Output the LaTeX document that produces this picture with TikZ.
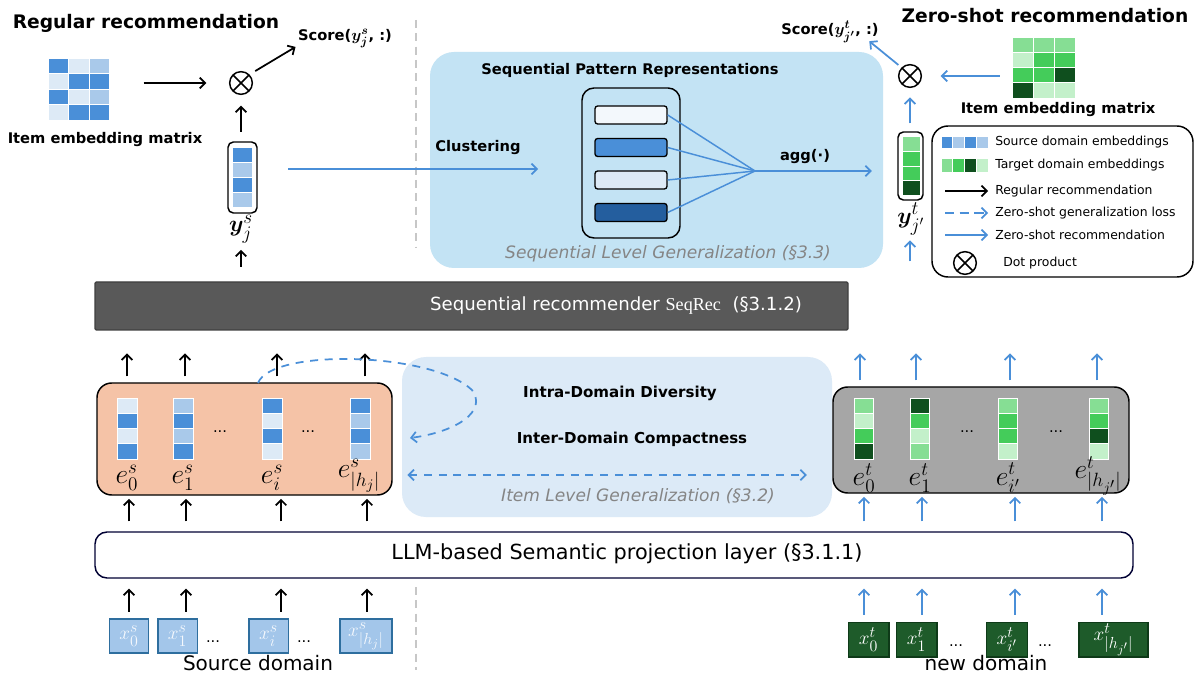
\documentclass[tikz,border=0pt]{standalone}
\usepackage{amsmath,amssymb,bm}
\usepackage{fontspec}
\setmainfont{DejaVu Sans}
\newfontfamily\seqrecfont{Liberation Serif}
\usetikzlibrary{arrows.meta,fit}
\DeclareMathSizes{19.5}{19.5}{15}{11}
\DeclareMathSizes{18}{18}{14}{10}
\DeclareMathSizes{14.5}{14.5}{11.5}{9}
\DeclareMathSizes{11}{12.5}{9.5}{7}

\definecolor{bdark}{HTML}{4A8FD8}
\definecolor{bmed}{HTML}{A9C9EA}
\definecolor{blight}{HTML}{DDEAF6}
\definecolor{bdeep}{HTML}{245E9E}
\definecolor{bpale}{HTML}{F3F8FC}
\definecolor{gdark}{HTML}{0F4F1E}
\definecolor{gmed}{HTML}{44CC5A}
\definecolor{glm}{HTML}{86DE94}
\definecolor{gvl}{HTML}{C3F0CA}
\definecolor{arrblue}{HTML}{4A8FD8}
\definecolor{seqfill}{HTML}{C3E3F4}
\definecolor{itemfill}{HTML}{DCEAF7}
\definecolor{srcfill}{HTML}{F5C3A7}
\definecolor{tgtfill}{HTML}{A6A6A6}
\definecolor{barfill}{HTML}{595959}
\definecolor{xsfill}{HTML}{A3C6EA}
\definecolor{xsline}{HTML}{2E6E9E}
\definecolor{xstext}{HTML}{F4F8FD}
\definecolor{xtfill}{HTML}{1E5B2A}
\definecolor{xtline}{HTML}{0E3A18}
\definecolor{sectgray}{HTML}{858585}

% one column / one row of embedding cells
\newcommand{\embcol}[5]{%
  \foreach \c [count=\k from 0] in {#5}
    \fill[\c,draw=white,line width=0.5pt] (#1,#2+\k*#4) rectangle ++(#3,#4);}
\newcommand{\embrow}[5]{%
  \foreach \c [count=\k from 0] in {#5}
    \fill[\c,draw=white,line width=0.5pt] (#1+\k*#3,#2) rectangle ++(#3,#4);}

\tikzset{
  blk/.style={line width=1.3pt,-{Straight Barb[length=4pt,width=8pt]}},
  bluarr/.style={draw=arrblue,line width=1.3pt,-{Straight Barb[length=4pt,width=8pt]}},
  bludash/.style={bluarr,dash pattern=on 6pt off 5pt},
  sepline/.style={draw=black!22,line width=1.1pt,dash pattern=on 6pt off 4pt},
  region/.style={inner sep=0pt,draw,line width=1.1pt},
  dotprod/.style={circle,draw,line width=1.1pt,minimum size=17pt,inner sep=0pt,
    path picture={\draw[line width=1.1pt]
      (path picture bounding box.north west) -- (path picture bounding box.south east)
      (path picture bounding box.north east) -- (path picture bounding box.south west);}},
  patbar/.style={draw,line width=1pt,rounded corners=2pt,minimum width=54pt,minimum height=13.5pt,inner sep=0pt},
  aggline/.style={draw=arrblue,line width=1.1pt},
  xsbox/.style={draw=xsline,fill=xsfill,line width=1pt,minimum width=29.5pt,minimum height=25.5pt,inner sep=0pt,
    text=xstext,font=\fontsize{14.5}{16}\selectfont},
  xtbox/.style={draw=xtline,fill=xtfill,line width=1pt,minimum width=30.5pt,minimum height=26pt,inner sep=0pt,
    text=white,font=\fontsize{14.5}{16}\selectfont},
  title/.style={inner sep=0.75pt,font=\bfseries\fontsize{14}{16}\selectfont},
  bold/.style={inner sep=0.75pt,font=\bfseries\boldmath\fontsize{11}{13}\selectfont},
  legtxt/.style={inner sep=0.75pt,anchor=west,font=\fontsize{9.3}{11}\selectfont},
  secttxt/.style={inner sep=0.75pt,text=sectgray,font=\itshape\fontsize{12.8}{15}\selectfont},
  elbl/.style={inner sep=0.75pt,font=\fontsize{19.5}{21}\selectfont},
  ylbl/.style={inner sep=0.75pt,font=\fontsize{18}{20}\selectfont},
  dots/.style={inner sep=0.75pt,font=\fontsize{11}{13}\selectfont},
}

\begin{document}
\begin{tikzpicture}[x=0.75pt,y=0.75pt,yscale=-1,xscale=1]
\path[use as bounding box,fill=white] (0,0) rectangle (1200,677);

% separators
\draw[sepline] (416,20) -- (416,247);
\draw[sepline] (416,587) -- (416,670);

% regions
\node[region,fit={(430,52) (883,268)},fill=seqfill,draw=none,rounded corners=18pt] (seqgen) {};
\node[region,fit={(402,357) (832,517)},fill=itemfill,draw=none,rounded corners=18pt] (itemgen) {};
\node[region,fit={(95,282) (848,330)},fill=barfill,draw=black!75,rounded corners=1pt] (seqrec) {};
\node[region,fit={(95,532) (1133,578)},fill=white,draw=black!80!blue,rounded corners=9pt] (llm) {};
\node[region,fit={(97,383) (392,495)},fill=srcfill,rounded corners=11pt] (sbox) {};
\node[region,fit={(833,387) (1129,493)},fill=tgtfill,rounded corners=11pt] (tbox) {};

% layer texts
\node[inner sep=0.75pt,text=white,font=\fontsize{13.6}{16}\selectfont] (seqrectxt) at (616,306)
  {Sequential recommender {\seqrecfont SeqRec}~~(§3.1.2)};
\node[inner sep=0.75pt,font=\fontsize{15.6}{18}\selectfont] (llmtxt) at (627,554)
  {LLM-based Semantic projection layer (§3.1.1)};

% ---- regular recommendation (top left)
\node[title] (regtitle) at (146,23) {Regular recommendation};
\embrow{48}{58}{20.5}{15.5}{bdark,blight,bmed}
\embrow{48}{73.5}{20.5}{15.5}{blight,bdark,bdark}
\embrow{48}{89}{20.5}{15.5}{bdark,blight,bmed}
\embrow{48}{104.5}{20.5}{15.5}{blight,bdark,bdark}
\node[fit={(48,58) (110,120)},inner sep=0pt] (smat) {};
\node[bold] (smatlbl) at (105,140) {Item embedding matrix};
\node[dotprod] (dps) at (241,83) {};
\node[bold] (scores) at (345,39) {Score($y^{s}_{j}$, :)};
\draw[blk,shorten <=25pt,shorten >=17pt] (dps.west -| smat.east) -- (dps.west);
\draw[blk,shorten <=5pt] (dps.north east) -- ([xshift=-1pt,yshift=-2pt]scores.south west);

\node[region,fit={(228,142) (257,213)},rounded corners=4pt] (ysvec) {};
\embcol{232.5}{147}{20}{15}{bdark,bmed,bdark,bmed}
\node[ylbl] (yslbl) at (241,229) {$\bm{y}^{s}_{j}$};
\draw[blk,shorten <=7pt,shorten >=8pt] (dps.south |- ysvec.north) -- (dps.south);
\draw[blk,shorten <=11pt,shorten >=4pt] (seqrec.north -| yslbl) -- (yslbl.south);

% ---- sequential level generalization
\node[bold] (pattitle) at (630,70) {Sequential Pattern Representations};
\node[region,fit={(582,88) (680,238)},fill=seqfill,rounded corners=9pt] (patbox) {};
\foreach \c [count=\k] in {bpale,bdark,blight,bdeep}
  \node[patbar,fill=\c] (pat\k) at (631,82.5+\k*32.5) {};
\coordinate (aggpt) at (755,171);
\foreach \k in {1,...,4} \draw[aggline] (pat\k.east) -- (aggpt);
\node[bold] (agglbl) at (805,157) {agg(·)};
\coordinate (clupt) at (538,169);
\node[bold] (clulbl) at (478,148) {Clustering};
\draw[bluarr,shorten <=23pt] (ysvec.east |- clupt) -- (clupt);
\node[secttxt] (seqlvl) at (668,254) {Sequential Level Generalization (§3.3)};

% ---- zero-shot recommendation (top right)
\node[title] (zstitle) at (1045,16) {Zero-shot recommendation};
\embrow{1012}{37}{21}{15.25}{glm,glm,glm}
\embrow{1012}{52.25}{21}{15.25}{gvl,gmed,gmed}
\embrow{1012}{67.5}{21}{15.25}{gmed,gmed,gdark}
\embrow{1012}{82.75}{21}{15.25}{gdark,gvl,gvl}
\node[fit={(1012,37) (1075,98)},inner sep=0pt] (tmat) {};
\node[bold] (tmatlbl) at (1058,110) {Item embedding matrix};
\node[dotprod] (dpt) at (910,76) {};
\node[bold] (scoret) at (830,32) {Score($y^{t}_{j'}$, :)};
\draw[bluarr,shorten <=9pt,shorten >=14pt] (tmat.west |- dpt) -- (dpt.east);
\draw[bluarr,shorten <=3pt] (dpt.north west) -- ([xshift=-8pt,yshift=-2pt]scoret.south east);

\node[region,fit={(898,132) (923,200)},rounded corners=4pt] (ytvec) {};
\embcol{902}{136.5}{18}{14.75}{glm,gmed,gmed,gdark}
\node[ylbl] (ytlbl) at (911,219) {$\bm{y}^{t}_{j'}$};
\draw[bluarr,shorten <=6pt,shorten >=7pt] (dpt.south |- ytvec.north) -- (dpt.south);
\draw[bluarr,shorten <=15pt,shorten >=3pt] (seqrec.north -| dpt) -- (dpt |- ytlbl.south);
\draw[bluarr,shorten >=19pt] (aggpt) -- (aggpt -| ytvec.west);

% legend
\node[region,fit={(932,126) (1193,277)},rounded corners=12pt] (legend) {};
\embrow{941}{136.5}{11.75}{12}{bdark,bmed,bdark,bmed}
\embrow{941}{158}{11.75}{14}{glm,gmed,gdark,gvl}
\node[legtxt] (lg1) at (994,142) {Source domain embeddings};
\node[legtxt] (lg2) at (994,165) {Target domain embeddings};
\node[legtxt] (lg3) at (994,191) {Regular recommendation};
\node[legtxt] (lg4) at (994,213) {Zero-shot generalization loss};
\node[legtxt] (lg5) at (994,235) {Zero-shot recommendation};
\coordinate (lga) at (945,0);
\coordinate (lgb) at (988,0);
\draw[blk] (lga |- lg3.west) -- (lgb |- lg3.west);
\draw[bludash,dash pattern=on 7pt off 4pt] (lga |- lg4.west) -- (lgb |- lg4.west);
\draw[bluarr] (lga |- lg5.west) -- (lgb |- lg5.west);
\node[dotprod] (lgdot) at (965,263) {};
\node[legtxt] (lg6) at (1002,263) {Dot product};

% ---- source domain items
\foreach \c [count=\k] in {117,173,262,350} \coordinate (sc\k) at (\c+10,0);
\embcol{117}{398}{20}{15.25}{blight,bdark,blight,bdark}
\embcol{173}{398}{20}{15.25}{bmed,bdark,bmed,bdark}
\embcol{262}{398}{20}{15.25}{bdark,blight,bdark,blight}
\embcol{350}{398}{20}{15.25}{bdark,bmed,bdark,bmed}
\node[elbl] (es1) at (sc1 |- 0,478) {$e^{s}_{0}$};
\node[elbl] (es2) at (sc2 |- 0,478) {$e^{s}_{1}$};
\node[elbl] (es3) at (sc3 |- 0,478) {$e^{s}_{i}$};
\node[elbl] (es4) at (359,476) {$e^{s}_{|h_j|}$};
\node[dots] (sdot1) at (220,432) {...};
\node[dots] (sdot2) at (308,432) {...};

\node[xsbox] (xs1) at (129,636) {$x^{s}_{0}$};
\node[xsbox] (xs2) at (177.5,636) {$x^{s}_{1}$};
\node[xsbox] (xs3) at (268.5,636) {$x^{s}_{i}$};
\node[xsbox,minimum width=39pt] (xs4) at (366,636) {$x^{s}_{|h_j|}$};
\node[dots] (xsdot1) at (213,642) {...};
\node[dots] (xsdot2) at (304,642) {...};
\node[inner sep=0.75pt,font=\fontsize{15}{17}\selectfont] (srcdom) at (258,663) {Source domain};

\foreach \x [count=\k] in {127,185,277,365} \coordinate (su\k) at (\x,0);
\foreach \x [count=\k] in {129,186,281,367} \coordinate (sl\k) at (\x,0);
\foreach \k in {1,...,4} {
  \draw[blk,shorten <=4.5pt,shorten >=17pt] (su\k |- sbox.north) -- (su\k |- seqrec.south);
  \draw[blk,shorten <=7.5pt,shorten >=2.3pt] (sl\k |- llm.north) -- (sl\k |- sbox.south);
  \draw[blk,shorten <=5pt,shorten >=7.5pt] (sl\k |- xs1.north) -- (sl\k |- llm.south);
}

% ---- item level generalization
\node[bold,font=\bfseries\fontsize{11.3}{13}\selectfont] (intra) at (620,393) {Intra-Domain Diversity};
\node[bold,font=\bfseries\fontsize{11.3}{13}\selectfont] (inter) at (632,439) {Inter-Domain Compactness};
\coordinate (loopstart) at (258,383);
\coordinate (loopend) at (410,438);
\draw[bludash] (loopstart) .. controls (272,348) and (432,352) .. (472,390)
  .. controls (488,412) and (455,432) .. (loopend);
\coordinate (ilrow) at (600,475);
\draw[bludash,{Straight Barb[length=4pt,width=8pt]}-{Straight Barb[length=4pt,width=8pt]},shorten <=11pt,shorten >=19pt]
  (ilrow -| sbox.east) -- (ilrow -| tbox.west);
\node[secttxt] (itemlvl) at (638,496) {Item Level Generalization (§3.2)};

% ---- new domain items
\foreach \c [count=\k] in {854,910,998,1089} \coordinate (tc\k) at (\c+10,0);
\embcol{854}{398}{19.5}{15.25}{glm,gvl,gmed,gdark}
\embcol{910}{398}{19.5}{15.25}{gdark,gmed,gvl,glm}
\embcol{998}{398}{19.5}{15.25}{glm,gmed,gmed,gvl}
\embcol{1089}{398}{19.5}{15.25}{glm,gmed,gdark,gvl}
\node[elbl] (et1) at (tc1 |- 0,478) {$e^{t}_{0}$};
\node[elbl] (et2) at (tc2 |- 0,478) {$e^{t}_{1}$};
\node[elbl] (et3) at (tc3 |- 0,478) {$e^{t}_{i'}$};
\node[elbl] (et4) at (1098,476) {$e^{t}_{|h_{j'}|}$};
\node[dots] (tdot1) at (967,432) {...};
\node[dots] (tdot2) at (1056,432) {...};

\node[xtbox] (xt1) at (868.5,639.5) {$x^{t}_{0}$};
\node[xtbox] (xt2) at (916.5,639.5) {$x^{t}_{1}$};
\node[xtbox] (xt3) at (1007,639.5) {$x^{t}_{i'}$};
\node[xtbox,minimum width=51.75pt] (xt4) at (1113.5,639.5) {$x^{t}_{|h_{j'}|}$};
\node[dots] (xtdot1) at (956,646) {...};
\node[dots] (xtdot2) at (1045,646) {...};
\node[inner sep=0.75pt,font=\fontsize{15}{17}\selectfont] (newdom) at (986,663) {new domain};

\foreach \x [count=\k] in {860,916,1010,1097} \coordinate (tu\k) at (\x,0);
\foreach \x [count=\k] in {864,922,1015,1102} \coordinate (tl\k) at (\x,0);
\foreach \k in {1,...,4} {
  \draw[bluarr,shorten <=4.5pt,shorten >=17pt] (tu\k |- tbox.north) -- (tu\k |- seqrec.south);
  \draw[bluarr,shorten <=7.5pt,shorten >=2.3pt] (tl\k |- llm.north) -- (tl\k |- tbox.south);
  \draw[bluarr,shorten <=5pt,shorten >=7.5pt] (tl\k |- xt1.north) -- (tl\k |- llm.south);
}

\end{tikzpicture}
\end{document}
